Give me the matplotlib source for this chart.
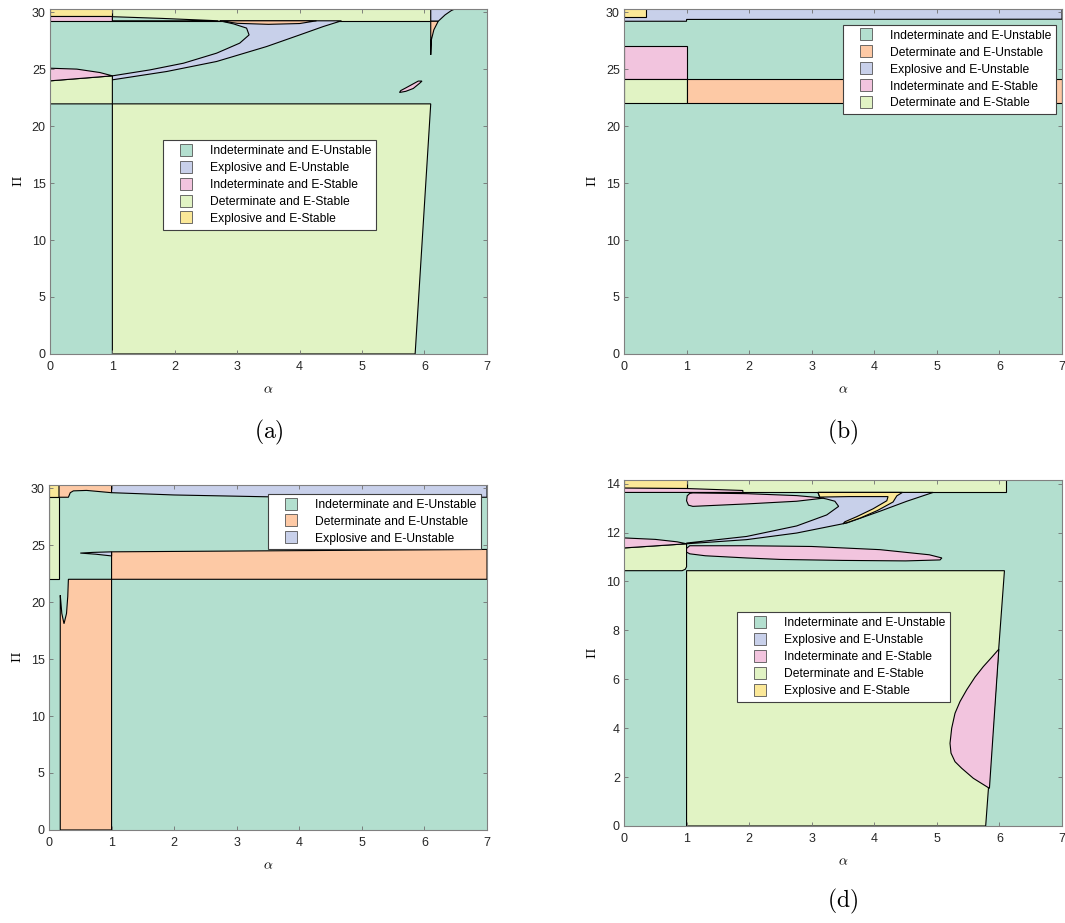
import matplotlib.pyplot as plt
from matplotlib.lines import Line2D

plt.rcParams['font.family'] = ['Liberation Sans', 'DejaVu Sans']
plt.rcParams['mathtext.fontset'] = 'cm'

# region classes
IU = 'Indeterminate and E-Unstable'
DU = 'Determinate and E-Unstable'
EU = 'Explosive and E-Unstable'
IS = 'Indeterminate and E-Stable'
DS = 'Determinate and E-Stable'
ES = 'Explosive and E-Stable'

colors = {IU: '#b3dfcf', DU: '#fdc9a5', EU: '#c8d0ea',
          IS: '#f2c4de', DS: '#e1f3c4', ES: '#fbe898'}

alpha_ticks = [0, 1, 2, 3, 4, 5, 6, 7]
pi_ticks_big = [0, 5, 10, 15, 20, 25, 30]
pi_ticks_small = [0, 2, 4, 6, 8, 10, 12, 14]

# ---------------- panel (a) ----------------
a_top_es_al = [0, 1, 1, 0]
a_top_es_pi = [29.7, 29.7, 30.4, 30.4]
a_top_is_al = [0, 1, 1, 0]
a_top_is_pi = [29.24, 29.24, 29.7, 29.7]
a_band_al = [1, 6.1, 6.1, 1]
a_band_pi = [29.24, 29.24, 30.4, 30.4]
a_sliver_al = [1, 1.8, 2.7, 1]
a_sliver_pi = [29.6, 29.45, 29.24, 29.24]
a_horn_al = [1.0, 1.87, 2.67, 3.47, 4.0, 4.38, 4.67, 2.72, 2.94, 3.15, 3.19,
             3.04, 2.67, 2.14, 1.60, 1.0]
a_horn_pi = [24.06, 24.79, 25.67, 26.98, 28.0, 28.74, 29.24, 29.24, 28.97,
             28.6, 28.0, 27.28, 26.4, 25.52, 24.93, 24.41]
a_lens_al = [2.72, 3.0, 3.5, 4.0, 4.27]
a_lens_pi = [29.24, 29.02, 28.93, 29.0, 29.24]
a_left_is_al = [0, 0.43, 0.8, 1.0, 0]
a_left_is_pi = [25.08, 25.0, 24.7, 24.41, 23.97]
a_left_ds_al = [0, 1, 1, 0]
a_left_ds_pi = [21.95, 21.95, 24.41, 23.97]
a_box_al = [1, 5.85, 6.1, 1]
a_box_pi = [0, 0, 21.95, 21.95]
a_spot_al = [5.6, 5.7, 5.82, 5.92, 5.96, 5.9, 5.8, 5.7, 5.62]
a_spot_pi = [22.95, 23.05, 23.3, 23.75, 23.95, 23.95, 23.65, 23.35, 23.12]
a_corner_eu_al = [6.1, 6.22, 6.33, 6.43, 6.54, 6.1]
a_corner_eu_pi = [29.2, 29.2, 29.76, 30.14, 30.4, 30.4]
a_corner_du_al = [6.1, 6.11, 6.15, 6.22, 6.1]
a_corner_du_pi = [26.25, 27.57, 28.45, 29.2, 29.2]

# ---------------- panel (b) ----------------
b_top_eu_al = [0, 1, 1, 7, 7, 0]
b_top_eu_pi = [29.2, 29.2, 29.36, 29.38, 30.4, 30.4]
b_top_es_al = [0, 0.35, 0.35, 0]
b_top_es_pi = [29.55, 29.55, 30.4, 30.4]
b_is_al = [0, 1, 1, 0]
b_is_pi = [24.14, 24.14, 27.07, 27.07]
b_ds_al = [0, 1, 1, 0]
b_ds_pi = [22.0, 22.0, 24.14, 24.14]
b_du_al = [1, 7, 7, 1]
b_du_pi = [22.0, 22.0, 24.14, 24.14]

# ---------------- panel (c) ----------------
c_corner_es_al = [0, 0.16, 0.16, 0]
c_corner_es_pi = [29.24, 29.24, 30.4, 30.4]
c_left_ds_al = [0, 0.16, 0.16, 0]
c_left_ds_pi = [22.0, 22.0, 29.24, 29.24]
c_top_du_al = [0.16, 0.31, 0.34, 0.39, 0.6, 1.0, 1.0, 0.16]
c_top_du_pi = [29.2, 29.2, 29.6, 29.76, 29.8, 29.6, 30.4, 30.4]
c_top_eu_al = [1.0, 2.0, 3.49, 5.0, 7.0, 7.0, 1.0]
c_top_eu_pi = [29.6, 29.4, 29.24, 29.22, 29.2, 30.4, 30.4]
c_band_du_al = [1, 7, 7, 1]
c_band_du_pi = [22.0, 22.0, 24.62, 24.41]
c_sliver_al = [0.5, 0.7, 1.0, 1.0, 0.75]
c_sliver_pi = [24.3, 24.36, 24.41, 24.05, 24.2]
c_col_du_al = [0.18, 1.0, 1.0, 0.31, 0.30, 0.28, 0.24, 0.205, 0.185, 0.18]
c_col_du_pi = [0, 0, 22.0, 22.0, 20.5, 19.0, 18.1, 19.0, 20.3, 20.6]

# ---------------- panel (d) ----------------
d_top_es_al = [0, 1, 1, 0]
d_top_es_pi = [13.82, 13.82, 14.3, 14.3]
d_band_al = [1, 6.1, 6.1, 1]
d_band_pi = [13.64, 13.64, 14.3, 14.3]
d_top_is_al = [0, 1, 1.9, 1.9, 1, 0]
d_top_is_pi = [13.64, 13.64, 13.64, 13.72, 13.8, 13.82]
d_horn_al = [1.0, 1.96, 2.76, 3.56, 4.09, 4.52, 4.94, 3.1, 3.13, 3.24, 3.37,
             3.43, 3.24, 2.76, 1.96, 1.0]
d_horn_pi = [11.54, 11.71, 11.98, 12.39, 12.87, 13.28, 13.64, 13.64, 13.43,
             13.37, 13.28, 13.07, 12.72, 12.27, 11.84, 11.57]
d_finger_al = [3.1, 4.45, 4.36, 4.3, 4.05, 3.78, 3.58, 3.5, 3.53, 3.72, 3.98,
               4.2, 4.22, 3.6, 3.13]
d_finger_pi = [13.64, 13.64, 13.5, 13.25, 12.9, 12.6, 12.42, 12.36, 12.44,
               12.65, 12.97, 13.3, 13.47, 13.47, 13.45]
d_lens_up_al = [1.05, 1.01, 1.0, 1.03, 1.1, 1.96, 2.76, 3.2, 2.76, 1.96, 1.1]
d_lens_up_pi = [13.6, 13.5, 13.3, 13.12, 13.07, 13.17, 13.28, 13.41, 13.51,
                13.59, 13.62]
d_left_is_al = [0, 0.5, 0.85, 1.0, 0]
d_left_is_pi = [11.78, 11.72, 11.62, 11.54, 11.37]
d_left_ds_al = [0, 0.93, 0.98, 1.0, 1.0, 0]
d_left_ds_pi = [10.44, 10.44, 10.5, 10.6, 11.54, 11.37]
d_lens_lo_al = [1.0, 1.05, 1.96, 3.0, 4.09, 4.88, 5.08, 5.05, 4.5, 3.5, 2.5,
                1.96, 1.3, 1.05, 1.0]
d_lens_lo_pi = [11.35, 11.46, 11.46, 11.43, 11.30, 11.09, 10.96, 10.88, 10.84,
                10.86, 10.9, 10.96, 11.05, 11.13, 11.2]
d_box_al = [1.0, 5.78, 6.08, 1.0]
d_box_pi = [0, 0, 10.44, 10.44]
d_pink_al = [5.99, 5.877, 5.743, 5.61, 5.477, 5.37, 5.29, 5.237, 5.21, 5.226,
             5.29, 5.397, 5.583, 5.84]
d_pink_pi = [7.23, 6.90, 6.52, 6.09, 5.57, 5.09, 4.61, 4.0, 3.38, 2.98,
             2.63, 2.36, 1.95, 1.54]

panel_a = [(DS, a_band_al, a_band_pi), (ES, a_top_es_al, a_top_es_pi),
           (IS, a_top_is_al, a_top_is_pi), (IU, a_sliver_al, a_sliver_pi),
           (EU, a_horn_al, a_horn_pi), (DU, a_lens_al, a_lens_pi),
           (DS, a_left_ds_al, a_left_ds_pi), (IS, a_left_is_al, a_left_is_pi),
           (DS, a_box_al, a_box_pi), (IS, a_spot_al, a_spot_pi),
           (EU, a_corner_eu_al, a_corner_eu_pi), (DU, a_corner_du_al, a_corner_du_pi)]
panel_b = [(EU, b_top_eu_al, b_top_eu_pi), (ES, b_top_es_al, b_top_es_pi),
           (IS, b_is_al, b_is_pi), (DS, b_ds_al, b_ds_pi), (DU, b_du_al, b_du_pi)]
panel_c = [(ES, c_corner_es_al, c_corner_es_pi), (DS, c_left_ds_al, c_left_ds_pi),
           (DU, c_top_du_al, c_top_du_pi), (EU, c_top_eu_al, c_top_eu_pi),
           (DU, c_band_du_al, c_band_du_pi), (EU, c_sliver_al, c_sliver_pi),
           (DU, c_col_du_al, c_col_du_pi)]
panel_d = [(DS, d_band_al, d_band_pi), (ES, d_top_es_al, d_top_es_pi),
           (IS, d_top_is_al, d_top_is_pi), (EU, d_horn_al, d_horn_pi),
           (ES, d_finger_al, d_finger_pi), (IS, d_lens_up_al, d_lens_up_pi),
           (DS, d_left_ds_al, d_left_ds_pi), (IS, d_left_is_al, d_left_is_pi),
           (IS, d_lens_lo_al, d_lens_lo_pi), (DS, d_box_al, d_box_pi),
           (IS, d_pink_al, d_pink_pi)]

legend_a = [IU, EU, IS, DS, ES]
legend_b = [IU, DU, EU, IS, DS]
legend_c = [IU, DU, EU]
legend_d = [IU, EU, IS, DS, ES]

fig = plt.figure(figsize=(10.65, 9.23), dpi=100)


def draw(rect, regions, ytop, yticks, leg, leg_xy, tag, tag_y):
    ax = fig.add_axes(rect)
    ax.set_facecolor(colors[IU])
    for cls, al, pi in regions:
        ax.fill(al, pi, facecolor=colors[cls], edgecolor='black', lw=0.8)
    ax.set_xlim(0, 7)
    ax.set_ylim(0, ytop)
    ax.set_xticks(alpha_ticks)
    ax.set_yticks(yticks)
    ax.tick_params(direction='in', top=True, right=True, length=3,
                   width=0.6, color='#707070', labelsize=9,
                   labelcolor='#262626', pad=3)
    ax.tick_params(axis='x', pad=5)
    for s in ax.spines.values():
        s.set_color('#808080')
        s.set_linewidth(0.8)
    ax.set_xlabel(r'$\alpha$', fontsize=10, labelpad=7)
    ax.set_ylabel(r'$\Pi$', fontsize=10, labelpad=5)
    handles = [Line2D([], [], ls='none', marker='s', markersize=8,
                      markerfacecolor=colors[c], markeredgecolor='#555555',
                      markeredgewidth=0.6) for c in leg]
    lg = ax.legend(handles, leg, loc='upper left', bbox_to_anchor=leg_xy,
                   fontsize=8.7, frameon=True, fancybox=False, framealpha=1,
                   edgecolor='#404040', borderpad=0.4, handlelength=3.0,
                   handletextpad=0.48, labelspacing=0.41, borderaxespad=0)
    lg.get_frame().set_linewidth(0.8)
    if tag:
        fig.text(rect[0] + rect[2] / 2, tag_y, tag, ha='center',
                 va='center', fontsize=17)
    return ax


draw([0.0469, 0.6165, 0.4103, 0.3738], panel_a, 30.28, pi_ticks_big,
     legend_a, (0.259, 0.62), r'$\mathrm{(a)}$', 0.531)
draw([0.5859, 0.6165, 0.4113, 0.3738], panel_b, 30.28, pi_ticks_big,
     legend_b, (0.50, 0.954), r'$\mathrm{(b)}$', 0.531)
draw([0.0460, 0.1008, 0.4113, 0.3738], panel_c, 30.28, pi_ticks_big,
     legend_c, (0.50, 0.974), None, 0)
draw([0.5859, 0.1051, 0.4113, 0.3749], panel_d, 14.15, pi_ticks_small,
     legend_d, (0.258, 0.618), r'$\mathrm{(d)}$', 0.0238)

fig.savefig('out.png', dpi=100, facecolor='white')
